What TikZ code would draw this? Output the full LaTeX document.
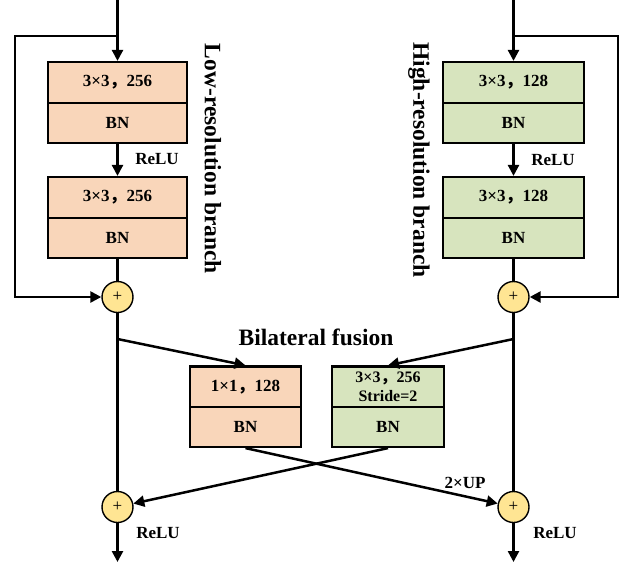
\documentclass[tikz,border=0pt]{standalone}
\usepackage{fontspec}
\setmainfont{Liberation Serif}
\newfontfamily\cjk{Noto Sans CJK SC}
\usetikzlibrary{arrows.meta}
\definecolor{peach}{HTML}{F9D6BA}
\definecolor{sage}{HTML}{D7E4BE}
\definecolor{sum}{HTML}{FFE593}
\newcommand{\cm}{{\cjk\bfseries ，}}
\begin{document}
\begin{tikzpicture}[x=1pt,y=-1pt,
  line width=2.5pt,
  arr/.style={-{Triangle[length=11pt,width=11pt]}},
  blk/.style={draw, line width=2.2pt, inner sep=0pt, font=\fontsize{17}{18}\selectfont\bfseries, align=center},
  lowb/.style={blk, fill=peach, minimum width=139pt},
  highb/.style={blk, fill=sage, minimum width=141pt},
  fuso/.style={blk, fill=peach, minimum width=111pt},
  fusg/.style={blk, fill=sage, minimum width=112pt},
  toprow/.style={minimum height=41pt},
  botrow/.style={minimum height=40pt},
  addc/.style={circle, draw, fill=sum, line width=1.4pt, minimum size=31pt, inner sep=0pt, font=\fontsize{17}{17}\selectfont},
  lbl/.style={font=\fontsize{17}{18}\selectfont\bfseries, inner sep=0pt},
  ttl/.style={font=\fontsize{23.5}{24}\selectfont\bfseries, inner sep=0pt}
]
\useasboundingbox (0,0) rectangle (626,562);

% low-resolution branch
\node[lowb, toprow] (l1a) at (117.5,82.5) {3×3\cm256};
\node[lowb, botrow] (l1b) at (117.5,123) {BN};
\node[lowb, toprow] (l2a) at (117.5,197.5) {3×3\cm256};
\node[lowb, botrow] (l2b) at (117.5,238) {BN};
\node[addc] (cL1) at (117.5,297) {+};
\node[addc] (cL2) at (117.5,507) {+};

% high-resolution branch
\node[highb, toprow] (h1a) at (513.5,82.5) {3×3\cm128};
\node[highb, botrow] (h1b) at (513.5,123) {BN};
\node[highb, toprow] (h2a) at (513.5,197.5) {3×3\cm128};
\node[highb, botrow] (h2b) at (513.5,238) {BN};
\node[addc] (cR1) at (513.5,297) {+};
\node[addc] (cR2) at (513.5,507) {+};

% fusion
\node[fuso, toprow] (f1a) at (245.5,387) {1×1\cm128};
\node[fuso, botrow] (f1b) at (245.5,427) {BN};
\node[fusg, toprow, font=\fontsize{16}{19}\selectfont\bfseries] (f2a) at (388,387) {3×3\cm256\\Stride=2};
\node[fusg, botrow] (f2b) at (388,427) {BN};

% labels
\node[ttl, rotate=-90] (tL) at (213,159) {Low-resolution branch};
\node[ttl, rotate=-90] (tR) at (419,160) {High-resolution branch};
\node[ttl] (tF) at (316,337) {Bilateral fusion};
\node[lbl] (r1) at (157,159) {ReLU};
\node[lbl] (r2) at (553,160) {ReLU};
\node[lbl] (r3) at (158,533) {ReLU};
\node[lbl] (r4) at (555,533) {ReLU};
\node[lbl] (up) at (465,483) {2×UP};

% coordinates
\coordinate (inL) at (117.5,0);
\coordinate (inR) at (513.5,0);
\coordinate (jL) at (117.5,36);
\coordinate (jR) at (513.5,36);
\coordinate (kL) at (117.5,339);
\coordinate (kR) at (513.5,339);
\coordinate (outL) at (117.5,562);
\coordinate (outR) at (513.5,562);

% left connectors
\draw[arr] (inL) -- (l1a.north);
\draw[arr] (jL) -- (15,36) |- (cL1);
\draw[arr] (l1b.south) -- (l2a.north);
\draw (l2b.south) -- (cL1.north);
\draw (cL1.south) -- (cL2.north);
\draw[arr] (cL2.south) -- (outL);

% right connectors
\draw[arr] (inR) -- (h1a.north);
\draw[arr] (jR) -- (618,36) |- (cR1);
\draw[arr] (h1b.south) -- (h2a.north);
\draw (h2b.south) -- (cR1.north);
\draw (cR1.south) -- (cR2.north);
\draw[arr] (cR2.south) -- (outR);

% fusion connectors
\draw[arr] (kL) -- (f1a.north);
\draw[arr] (kR) -- (f2a.north);
\draw[arr] (f1b.south) -- (cR2);
\draw[arr] (f2b.south) -- (cL2);
\end{tikzpicture}
\end{document}
